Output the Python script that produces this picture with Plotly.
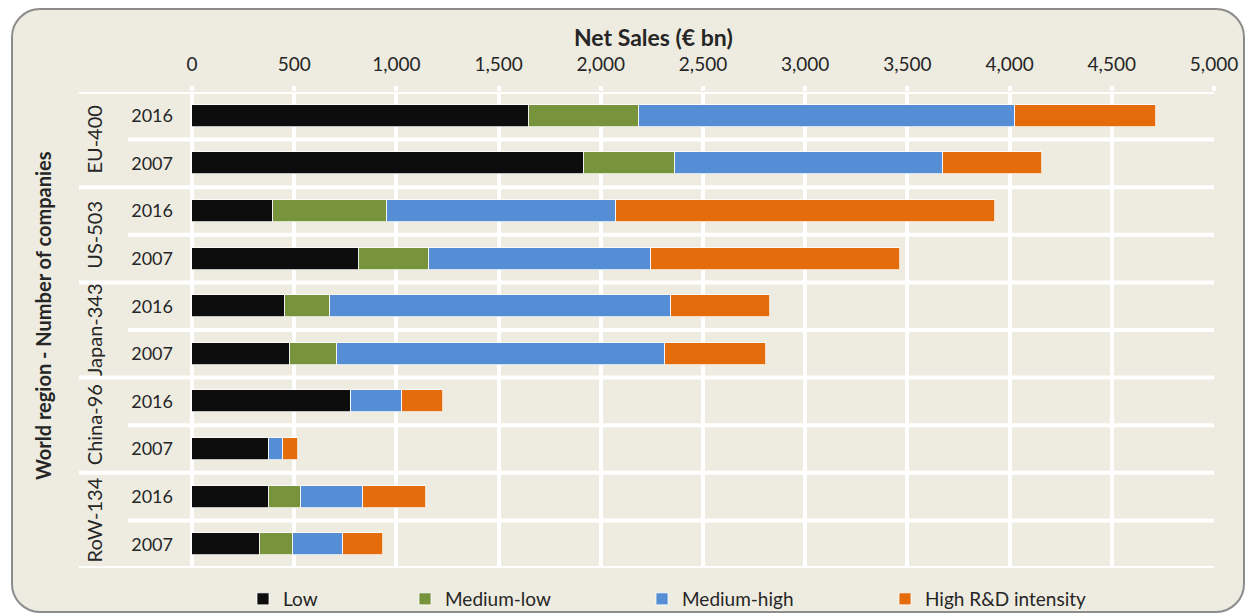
import plotly.graph_objects as go

# Net sales (EUR bn) by R&D intensity group, per world region and year
regions = ["EU-400", "US-503", "Japan-343", "China-96", "RoW-134"]
years = ["2016", "2007"]

low = [1649, 1918, 395, 815, 457, 481, 776, 375, 375, 333]
medium_low = [539, 445, 557, 345, 220, 227, 0, 0, 157, 163]
medium_high = [1837, 1311, 1124, 1085, 1668, 1606, 251, 69, 306, 244]
high_rd = [690, 483, 1854, 1220, 481, 493, 201, 75, 308, 193]

series_names = ["Low", "Medium-low", "Medium-high", "High R&D intensity"]
series_colors = ["#0D0D0D", "#77933C", "#558ED5", "#E46C0A"]

x_ticks = list(range(0, 5001, 500))

# ---- layout geometry (pixels) ----
W, H = 1248, 613
L, R, T, B = 192, 1214, 92, 568
PW, PH = R - L, B - T


def px(x):
    return (x - L) / PW


def py(y):
    return (B - y) / PH


FONT = "Lato, 'Open Sans', sans-serif"
TXT = "#262626"
BG = "#EEECE1"

rows = list(range(len(regions) * len(years)))
row_labels = [yr for _ in regions for yr in years]

fig = go.Figure()
legend_ids = ["legend", "legend2", "legend3", "legend4"]
for name, vals, color, lg in zip(series_names, [low, medium_low, medium_high, high_rd],
                                  series_colors, legend_ids):
    fig.add_trace(go.Bar(
        x=vals, y=rows, orientation="h", name=name, width=0.46,
        marker=dict(color=color, line=dict(color="rgba(255,255,255,0.75)", width=1)),
        legend=lg, showlegend=True,
    ))

shapes = []
# rounded chart frame
x0, x1, y0, y1, r = 12, 1244, 9, 612, 28
k = 0.5523 * r


def P(x, y):
    return f"{px(x):.5f},{py(y):.5f}"


frame = (
    f"M {P(x0 + r, y0)} L {P(x1 - r, y0)} "
    f"C {P(x1 - r + k, y0)} {P(x1, y0 + r - k)} {P(x1, y0 + r)} "
    f"L {P(x1, y1 - r)} "
    f"C {P(x1, y1 - r + k)} {P(x1 - r + k, y1)} {P(x1 - r, y1)} "
    f"L {P(x0 + r, y1)} "
    f"C {P(x0 + r - k, y1)} {P(x0, y1 - r + k)} {P(x0, y1 - r)} "
    f"L {P(x0, y0 + r)} "
    f"C {P(x0, y0 + r - k)} {P(x0 + r - k, y0)} {P(x0 + r, y0)} Z"
)
shapes.append(dict(type="path", path=frame, xref="paper", yref="paper",
                   fillcolor=BG, line=dict(color="#8C8C8C", width=2), layer="below"))

# horizontal separators between categories; longer ones between regions
n_rows = len(rows)
for b in range(n_rows + 1):
    edge = b - 0.5
    start = px(79) if b % len(years) == 0 else px(128)
    shapes.append(dict(type="line", xref="paper", yref="y", x0=start, x1=1,
                       y0=edge, y1=edge, line=dict(color="#FFFFFF", width=4),
                       layer="above"))

annotations = []
for i, reg in enumerate(regions):
    annotations.append(dict(
        text=reg, xref="paper", yref="y", x=px(94), y=i * len(years) + 0.5,
        textangle=-90, showarrow=False, font=dict(family=FONT, size=20, color=TXT),
        xanchor="center", yanchor="middle"))

annotations.append(dict(
    text="<b>Net Sales (€ bn)</b>", xref="paper", yref="paper", x=px(653), y=py(37),
    showarrow=False, font=dict(family=FONT, size=23, color=TXT),
    xanchor="center", yanchor="middle"))
annotations.append(dict(
    text="<b>World region - Number of companies</b>", xref="paper", yref="paper",
    x=px(43), y=py(316), textangle=-90, showarrow=False,
    font=dict(family=FONT, size=20, color=TXT), xanchor="center", yanchor="middle"))

legend_text_x = [283, 445, 682, 925]
legend_common = dict(orientation="h", yanchor="middle", xanchor="left",
                     bgcolor="rgba(0,0,0,0)", font=dict(family=FONT, size=19, color=TXT),
                     itemwidth=30)
legends = {}
for lg, tx in zip(legend_ids, legend_text_x):
    legends[lg] = dict(legend_common, x=px(tx - 40), y=py(599))

fig.update_layout(
    width=W, height=H, autosize=False,
    margin=dict(l=L, r=W - R, t=T, b=H - B, pad=0, autoexpand=False),
    paper_bgcolor="white", plot_bgcolor="rgba(0,0,0,0)",
    barmode="stack", bargap=0, showlegend=True,
    font=dict(family=FONT, size=18, color=TXT),
    xaxis=dict(side="top", range=[0, 5000], tickvals=x_ticks, tickformat=",d",
               showgrid=True, gridcolor="white", gridwidth=4,
               zeroline=True, zerolinecolor="white", zerolinewidth=4,
               ticks="outside", ticklen=5, tickwidth=4, tickcolor="white",
               ticklabelstandoff=7, showline=False, fixedrange=True,
               tickfont=dict(size=19)),
    yaxis=dict(range=[n_rows - 0.5, -0.5], tickvals=rows, ticktext=row_labels,
               showgrid=False, zeroline=False, ticks="", showline=False,
               ticklabelstandoff=18, fixedrange=True),
    shapes=shapes, annotations=annotations,
    **legends,
)

fig.write_html("out.html")
